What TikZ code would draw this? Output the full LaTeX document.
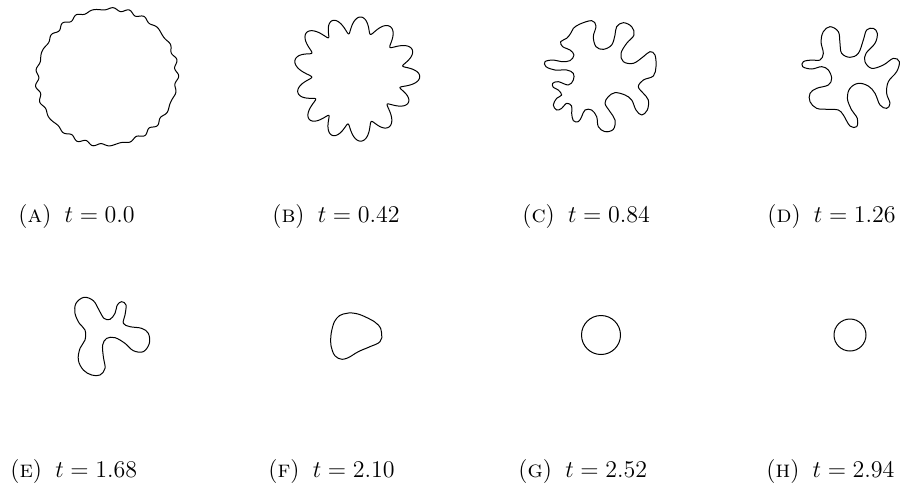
\documentclass[tikz,border=0pt]{standalone}
\usepackage{amsmath,amssymb}
\usetikzlibrary{positioning}

\begin{document}
\begin{tikzpicture}[x=0.5pt, y=-0.5pt, font=\large,
	   front/.style={draw, line width=0.5pt, line join=round},
	   caplabel/.style={anchor=base west, inner sep=0pt}]
	  \useasboundingbox (0,0) rectangle (901,489);
	  % top row: early times
	  \draw[front] plot[domain=0:360, samples=700, smooth, variable=\t]
	    ({107 + (69 + 1.3*cos(25*\t) + 0.6*cos(31*\t+50) + 1.2*cos(2*\t+40))*cos(\t)},
	     {77 + (69 + 1.3*cos(25*\t) + 0.6*cos(31*\t+50) + 1.2*cos(2*\t+40))*sin(\t)}) -- cycle;
	  \draw[front] plot[domain=0:360, samples=700, smooth, variable=\t]
	    ({355 + (54 + 8*cos(13*\t + 20*sin(3*\t)) + 2.5*cos(3*\t+60) + 1.5*cos(5*\t))*cos(\t + 1.8*sin(13*\t + 20*sin(3*\t)))},
	     {77 + (54 + 8*cos(13*\t + 20*sin(3*\t)) + 2.5*cos(3*\t+60) + 1.5*cos(5*\t))*sin(\t + 1.8*sin(13*\t + 20*sin(3*\t)))}) -- cycle;
	  \begin{scope}[shift={(520,0)}, scale=1/3]
	    \draw[front] plot[smooth cycle, tension=0.6] coordinates {
	      (215,62) (228,78) (220,110) (228,140) (250,148) (275,135) (285,105)
	      (290,80) (310,68) (335,80) (342,105) (320,130) (303,160) (310,185)
	      (340,190) (370,170) (390,155) (405,165) (408,200) (400,228) (370,240)
	      (355,260) (370,280) (385,300) (382,330) (365,345) (348,330) (335,300)
	      (315,285) (285,278) (265,290) (255,310) (270,335) (285,360) (280,388)
	      (255,395) (235,380) (230,350) (215,330) (195,330) (185,350) (175,365)
	      (160,362) (155,340) (155,318) (140,310) (125,325) (110,330) (100,315)
	      (110,295) (125,285) (115,270) (100,262) (98,250) (115,245) (145,255)
	      (160,240) (160,220) (140,210) (105,210) (78,200) (75,185) (100,180)
	      (125,185) (150,182) (162,165) (150,150) (128,140) (122,125) (140,115)
	      (152,100) (160,85) (180,72)};
	  \end{scope}
	  \begin{scope}[shift={(760,0)}, scale=1/3]
	    \draw[front] plot[smooth cycle, tension=0.6] coordinates {
	      (210,80) (235,95) (240,130) (245,160) (270,172) (295,160) (310,120)
	      (320,90) (340,85) (352,100) (345,130) (318,160) (315,185) (335,205)
	      (370,195) (400,175) (418,185) (410,215) (385,245) (380,280) (390,310)
	      (380,325) (360,315) (345,280) (325,258) (295,250) (270,265) (262,295)
	      (275,330) (292,355) (290,380) (270,378) (250,345) (235,330) (205,328)
	      (170,325) (150,305) (150,280) (170,265) (205,255) (215,235) (205,210)
	      (185,200) (155,207) (128,200) (130,185) (155,180) (180,180) (190,160)
	      (183,125) (190,95)};
	  \end{scope}
	  % bottom row: late times
	  \begin{scope}[shift={(60,290)}, scale=1/3]
	    \draw[front] plot[smooth cycle, tension=0.6] coordinates {
	      (72,22) (100,32) (117,60) (132,85) (150,88) (165,70) (172,45) (185,35)
	      (198,45) (195,75) (190,100) (210,110) (245,115) (265,130) (268,160)
	      (250,185) (220,182) (195,160) (165,143) (140,145) (128,165) (130,200)
	      (135,235) (120,255) (95,255) (70,240) (55,210) (60,175) (75,150)
	      (75,120) (58,100) (45,70) (48,40)};
	  \end{scope}
	  \begin{scope}[shift={(310,310)}, scale=1/3]
	    \draw[front] plot[smooth cycle, tension=0.7] coordinates {
	      (100,12) (135,10) (175,25) (205,45) (215,70) (210,95) (180,110)
	      (145,125) (110,145) (85,145) (68,125) (62,90) (68,50) (80,25)};
	  \end{scope}
	  \draw[front] (601,335) circle[radius=19.5];
	  \draw[front] (850,335) circle[radius=16];
	  % captions
	  \foreach \tag/\tval/\px/\py [count=\i] in
	    {a/0.0/18/222, b/0.42/272/222, c/0.84/522/222, d/1.26/767/222,
	     e/1.68/10/477, f/2.10/268/477, g/2.52/518/477, h/2.94/766/477}
	    \node[caplabel] (cap\i) at (\px,\py) {(\textsc{\tag})\hskip0.55em$t=\tval$};
	\end{tikzpicture}
\end{document}
